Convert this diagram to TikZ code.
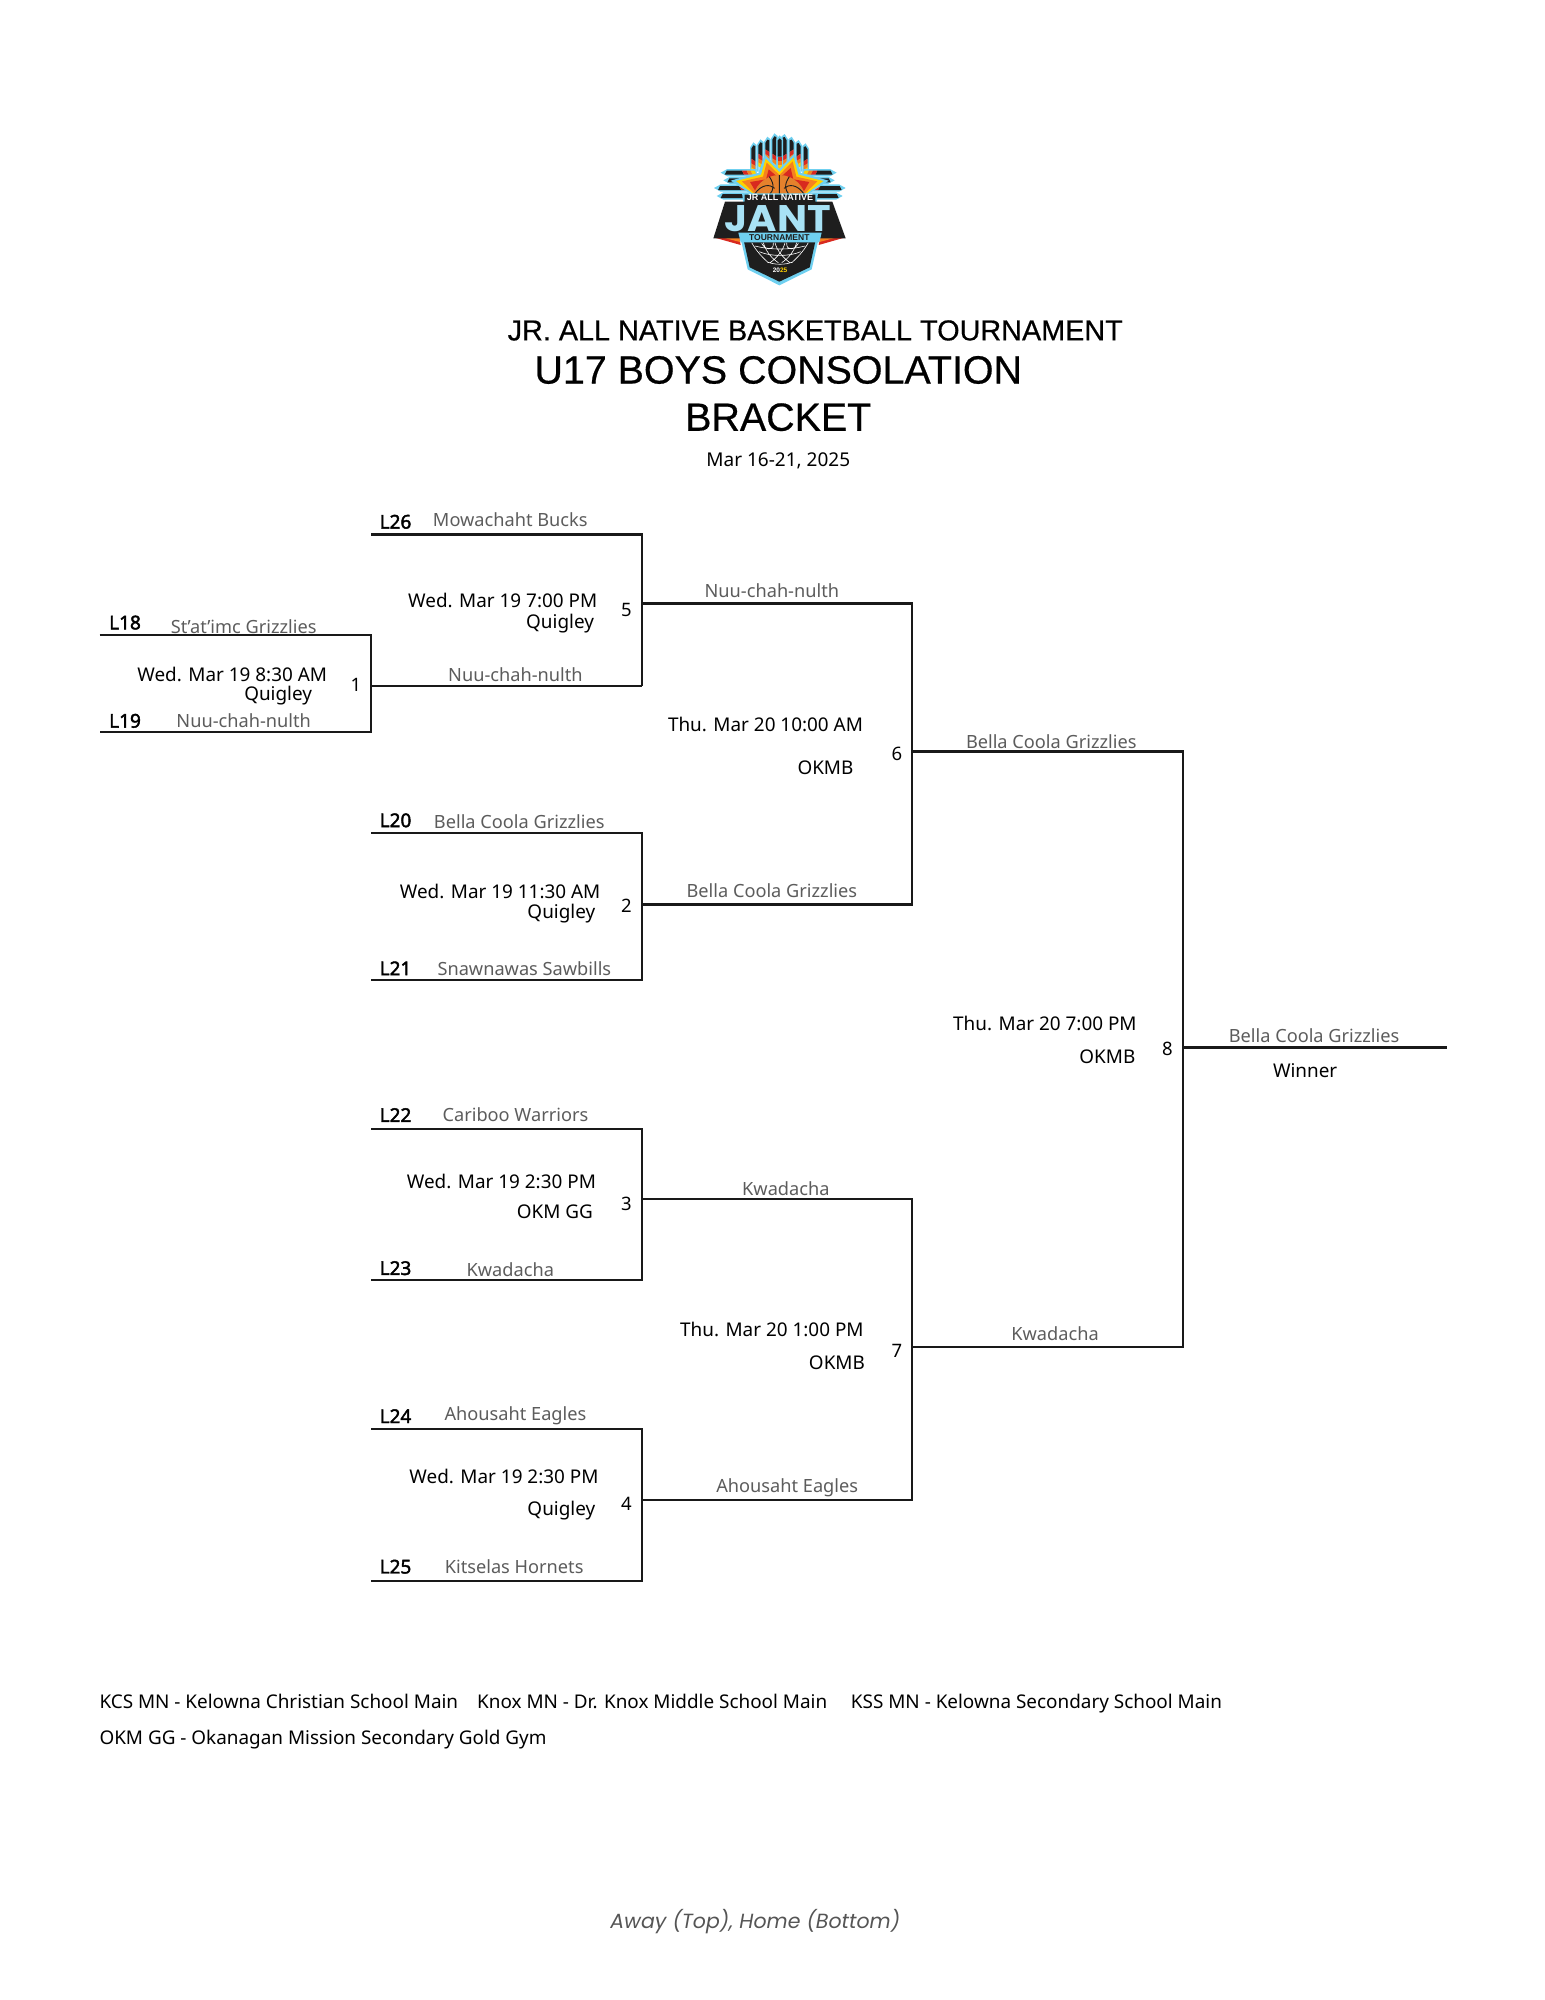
\documentclass[tikz,border=0pt]{standalone}
\usepackage{fontspec}
\usepackage{graphicx}
\setmainfont{Noto Sans}
\newfontfamily\seedfont[FakeBold=2.2]{Noto Sans}
\newfontfamily\titlefont[FakeBold=0.5]{Liberation Sans}
\newfontfamily\logofont{Liberation Sans}
\newfontfamily\awayfont{Poppins}
\definecolor{teamgray}{HTML}{5C5C5C}
\definecolor{awaygray}{HTML}{555555}
\definecolor{lcyan}{HTML}{6FD0F0}
\definecolor{lpale}{HTML}{A8E2F5}
\definecolor{lred}{HTML}{D8291F}
\definecolor{lorange}{HTML}{F58220}
\definecolor{lyellow}{HTML}{FFD200}
\definecolor{lblack}{HTML}{1E1E1E}
\definecolor{lball}{HTML}{E5812C}
% vertical feather: centre x, tip y, bottom y, slant of the stripes
\newcommand{\vfea}[4]{%
  \fill[lcyan] (#1-10,#2+12+#4) -- (#1,#2) -- (#1+10,#2+12-#4) -- (#1+10,#3) -- (#1-10,#3) -- cycle;
  \fill[lblack] (#1-6,#2+15+#4) -- (#1,#2+9) -- (#1+6,#2+15-#4) -- (#1+6,#3-50+#4) -- (#1-6,#3-50-#4) -- cycle;
  \fill[lred] (#1-6,#3-50-#4) -- (#1+6,#3-50+#4) -- (#1+6,#3-36+#4) -- (#1-6,#3-36-#4) -- cycle;
  \fill[lorange] (#1-6,#3-36-#4) -- (#1+6,#3-36+#4) -- (#1+6,#3-24+#4) -- (#1-6,#3-24-#4) -- cycle;
  \fill[lyellow] (#1-6,#3-24-#4) -- (#1+6,#3-24+#4) -- (#1+6,#3-12+#4) -- (#1-6,#3-12-#4) -- cycle;
  \fill[lpale] (#1-6,#3-12-#4) -- (#1+6,#3-12+#4) -- (#1+6,#3) -- (#1-6,#3) -- cycle;}
% horizontal feather: tip x, centre y, inner x, direction (+1 left side, -1 right side)
\newcommand{\hfea}[4]{%
  \fill[lcyan] (#1,#2) -- (#1+#4*20,#2-11) -- (#3,#2-11) -- (#3,#2+11) -- (#1+#4*20,#2+11) -- cycle;
  \fill[lblack] (#1+#4*18,#2-6) -- (#3-#4*44,#2-6) -- (#3-#4*38,#2+6) -- (#1+#4*12,#2+6) -- cycle;
  \fill[lred] (#3-#4*44,#2-6) -- (#3-#4*30,#2-6) -- (#3-#4*24,#2+6) -- (#3-#4*38,#2+6) -- cycle;
  \fill[lorange] (#3-#4*30,#2-6) -- (#3-#4*18,#2-6) -- (#3-#4*12,#2+6) -- (#3-#4*24,#2+6) -- cycle;
  \fill[lyellow] (#3-#4*18,#2-6) -- (#3-#4*6,#2-6) -- (#3,#2+6) -- (#3-#4*12,#2+6) -- cycle;}
\tikzset{
  every node/.style={inner sep=0pt,outer sep=0pt,text=black},
  bracketline/.style={line width=2.2pt,line join=miter,draw=black!90},
  seed/.style={font=\fontsize{19}{19}\selectfont\seedfont},
  team/.style={font=\fontsize{18.2}{18.2}\selectfont,text=teamgray},
  info/.style={font=\fontsize{18.9}{18.9}\selectfont},
  gamenum/.style={font=\fontsize{18.5}{18.5}\selectfont},
  legend/.style={font=\fontsize{18.9}{18.9}\selectfont,anchor=base west},
  titlea/.style={font=\fontsize{28.8}{29}\selectfont\titlefont},
  titleb/.style={font=\fontsize{39.4}{40}\selectfont\titlefont},
}
\begin{document}
\begin{tikzpicture}[x=1.2758pt,y=-1.2758pt]
\path[use as bounding box] (0,0) rectangle (1211,1567.64);
% logo
\begin{scope}[shift={(533,86.22)},x=1pt/3,y=-1pt/3]
  \foreach \c/\t/\b in {220/97/200,241/88/185,262/80/172,283/70/185}{\vfea{\c}{\t}{\b}{4}}
  \foreach \c/\t/\b in {314/72/185,335/80/172,356/90/185,377/100/200}{\vfea{\c}{\t}{\b}{-4}}
  \vfea{299}{76}{190}{0}
  \hfea{122}{188}{230}{1}\hfea{130}{211}{222}{1}\hfea{102}{234}{222}{1}\hfea{110}{258}{230}{1}
  \hfea{470}{188}{368}{-1}\hfea{464}{211}{376}{-1}\hfea{497}{234}{376}{-1}\hfea{488}{258}{368}{-1}
  \fill[lcyan] (254,134) -- (298,176) -- (344,130) -- (362,188) -- (446,212) -- (385,252) -- (213,252) -- (152,212) -- (236,188) -- cycle;
  \fill[lyellow] (257,146) -- (298,186) -- (341,142) -- (355,194) -- (430,213) -- (380,250) -- (218,250) -- (168,213) -- (243,194) -- cycle;
  \fill[lorange] (260,158) -- (298,195) -- (338,154) -- (349,200) -- (412,214) -- (375,250) -- (223,250) -- (186,214) -- (249,200) -- cycle;
  \fill[lred] (266,178) -- (298,205) -- (332,174) -- (340,208) -- (388,216) -- (368,250) -- (230,250) -- (210,216) -- (258,208) -- cycle;
  \begin{scope}
    \clip (200,190) rectangle (400,252);
    \fill[lball] (298,275) circle (80);
    \draw[lblack,line width=0.9pt] (298,195) -- (298,252) (268,200) .. controls (285,225) and (280,240) .. (270,252) (328,200) .. controls (311,225) and (316,240) .. (326,252) (224,252) .. controls (245,222) and (270,222) .. (284,235) (372,252) .. controls (351,222) and (326,222) .. (312,235);
  \end{scope}
  \fill[lcyan] (186,250) -- (414,250) -- (410,277) -- (190,277) -- cycle;
  \fill[lred] (104,383) -- (178,383) -- (182,405) -- cycle;
  \fill[lred] (493,383) -- (420,383) -- (416,405) -- cycle;
  \fill[lorange] (130,383) -- (178,383) -- (180,396) -- cycle;
  \fill[lorange] (467,383) -- (420,383) -- (418,396) -- cycle;
  \fill[lblack] (135,275) -- (194,275) -- (194,254) -- (406,254) -- (406,275) -- (457,275) -- (497,385) -- (100,385) -- cycle;
  \fill[lcyan] (183,390) -- (415,390) -- (395,478) -- (298,526) -- (203,478) -- cycle;
  \fill[lblack] (191,390) -- (407,390) -- (389,472) -- (298,515) -- (209,472) -- cycle;
  \draw[white,line width=0.6pt]
    (215,398) .. controls (230,425) and (250,445) .. (265,458)
    (250,398) .. controls (258,425) and (275,445) .. (295,458)
    (285,398) .. controls (290,420) and (310,445) .. (330,458)
    (320,398) .. controls (318,425) and (345,420) .. (355,400)
    (385,398) .. controls (370,425) and (350,445) .. (335,458)
    (350,398) .. controls (342,425) and (325,445) .. (305,458)
    (315,398) .. controls (310,420) and (290,445) .. (270,458)
    (280,398) .. controls (282,425) and (255,420) .. (245,400)
    (238,425) .. controls (270,440) and (330,440) .. (362,425)
    (225,408) .. controls (270,420) and (330,420) .. (375,408)
    (262,456) .. controls (285,465) and (315,465) .. (338,456);
  \fill[lcyan] (175,368) -- (425,368) -- (418,397) -- (182,397) -- cycle;
  \node (logojr) at (300,263) {\fontsize{9}{9}\selectfont\logofont\bfseries\textcolor{white}{JR ALL NATIVE}};
  \node (logojant) at (293,326) {\scalebox{1.08}[1.0]{\fontsize{37}{37}\selectfont\awayfont\bfseries\textcolor{lpale}{JANT}}};
  \node (logotour) at (298,382) {\fontsize{8.5}{8.5}\selectfont\logofont\bfseries\textcolor{lblack}{TOURNAMENT}};
  \node (logoyear) at (300,481) {\fontsize{6.5}{6.5}\selectfont\logofont\bfseries\textcolor{white}{20}\textcolor{lyellow}{25}};
\end{scope}
% titles
\node[titlea] (t1) at (639,259) {JR. ALL NATIVE BASKETBALL TOURNAMENT};
\node[titleb] (t2) at (610,290) {U17 BOYS CONSOLATION};
\node[titleb] (t3) at (610,327) {BRACKET};
\node[font=\fontsize{19}{19}\selectfont] (dates) at (610,361) {Mar 16-21, 2025};
% bracket anchors
\coordinate (s18) at (78,498);
\coordinate (s19) at (78,574);
\coordinate (g1t) at (291,498);
\coordinate (g1b) at (291,574);
\coordinate (g1m) at (291,538);
\coordinate (s26) at (291,419);
\coordinate (g5t) at (503,419);
\coordinate (g5b) at (503,538);
\coordinate (g5m) at (503,473);
\coordinate (s20) at (291,653);
\coordinate (s21) at (291,768);
\coordinate (g2t) at (503,653);
\coordinate (g2b) at (503,768);
\coordinate (g2m) at (503,709);
\coordinate (g6t) at (715,473);
\coordinate (g6b) at (715,709);
\coordinate (g6m) at (715,589);
\coordinate (s22) at (291,885);
\coordinate (s23) at (291,1003);
\coordinate (g3t) at (503,885);
\coordinate (g3b) at (503,1003);
\coordinate (g3m) at (503,940);
\coordinate (s24) at (291,1120);
\coordinate (s25) at (291,1239);
\coordinate (g4t) at (503,1120);
\coordinate (g4b) at (503,1239);
\coordinate (g4m) at (503,1176);
\coordinate (g7t) at (715,940);
\coordinate (g7b) at (715,1176);
\coordinate (g7m) at (715,1056);
\coordinate (g8t) at (927,589);
\coordinate (g8b) at (927,1056);
\coordinate (g8m) at (927,821);
\coordinate (win) at (1134,821);
\draw[bracketline] (s18) -- (g1t) -- (g1b) -- (s19);
\draw[bracketline] (g1m) -- (g5b);
\draw[bracketline] (s26) -- (g5t) -- (g5b);
\draw[bracketline] (g5m) -- (g6t) -- (g6b) -- (g2m);
\draw[bracketline] (s20) -- (g2t) -- (g2b) -- (s21);
\draw[bracketline] (g6m) -- (g8t) -- (g8b) -- (g7m);
\draw[bracketline] (s22) -- (g3t) -- (g3b) -- (s23);
\draw[bracketline] (s24) -- (g4t) -- (g4b) -- (s25);
\draw[bracketline] (g3m) -- (g7t) -- (g7b) -- (g4m);
\draw[bracketline] (g8m) -- (win);
% game 1
\node[seed] (l18) at (98,488) {L18};
\node[team] (n18) at (191,491) {St’at’imc Grizzlies};
\node[info] (d1) at (182,529) {Wed. Mar 19 8:30 AM};
\node[info] (v1) at (218,545) {Quigley};
\node[gamenum] (m1) at (279,537) {1};
\node[seed] (l19) at (98,565) {L19};
\node[team] (n19) at (191,565) {Nuu-chah-nulth};
\node[team] (r1) at (404,529) {Nuu-chah-nulth};
% game 5
\node[seed] (l26) at (310,409) {L26};
\node[team] (n26) at (400,407) {Mowachaht Bucks};
\node[info] (d5) at (394,471) {Wed. Mar 19 7:00 PM};
\node[info] (v5) at (439,489) {Quigley};
\node[gamenum] (m5) at (491,478) {5};
\node[team] (r5) at (605,463) {Nuu-chah-nulth};
% game 6
\node[info] (d6) at (600,568) {Thu. Mar 20 10:00 AM};
\node[info] (v6) at (647,602) {OKMB};
\node[gamenum] (m6) at (703,591) {6};
\node[team] (r6) at (824,581) {Bella Coola Grizzlies};
% game 2
\node[seed] (l20) at (310,643) {L20};
\node[team] (n20) at (407,644) {Bella Coola Grizzlies};
\node[info] (d2) at (392,699) {Wed. Mar 19 11:30 AM};
\node[info] (v2) at (440,716) {Quigley};
\node[gamenum] (m2) at (491,710) {2};
\node[seed] (l21) at (310,759) {L21};
\node[team] (n21) at (411,759) {Snawnawas Sawbills};
\node[team] (r2) at (605,698) {Bella Coola Grizzlies};
% game 8
\node[info] (d8) at (819,802) {Thu. Mar 20 7:00 PM};
\node[info] (v8) at (868,828) {OKMB};
\node[gamenum] (m8) at (915,822) {8};
\node[team] (r8) at (1030,812) {Bella Coola Grizzlies};
\node[info] (winner) at (1023,839) {Winner};
% game 3
\node[seed] (l22) at (310,874) {L22};
\node[team] (n22) at (404,874) {Cariboo Warriors};
\node[info] (d3) at (393,926) {Wed. Mar 19 2:30 PM};
\node[info] (v3) at (435,950) {OKM GG};
\node[gamenum] (m3) at (491,944) {3};
\node[seed] (l23) at (310,994) {L23};
\node[team] (n23) at (400,995) {Kwadacha};
\node[team] (r3) at (616,932) {Kwadacha};
% game 7
\node[info] (d7) at (605,1042) {Thu. Mar 20 1:00 PM};
\node[info] (v7) at (656,1068) {OKMB};
\node[gamenum] (m7) at (703,1059) {7};
\node[team] (r7) at (827,1045) {Kwadacha};
% game 4
\node[seed] (l24) at (310,1110) {L24};
\node[team] (n24) at (404,1110) {Ahousaht Eagles};
\node[info] (d4) at (395,1157) {Wed. Mar 19 2:30 PM};
\node[info] (v4) at (440,1184) {Quigley};
\node[gamenum] (m4) at (491,1179) {4};
\node[seed] (l25) at (310,1228) {L25};
\node[team] (n25) at (403,1228) {Kitselas Hornets};
\node[team] (r4) at (617,1166) {Ahousaht Eagles};
% legend
\node[legend] (k1) at (78,1339) {KCS MN - Kelowna Christian School Main};
\node[legend] (k2) at (374,1339) {Knox MN - Dr. Knox Middle School Main};
\node[legend] (k3) at (667,1339) {KSS MN - Kelowna Secondary School Main};
\node[legend] (k4) at (78,1367) {OKM GG - Okanagan Mission Secondary Gold Gym};
\node[font=\fontsize{20.5}{20.5}\selectfont\awayfont\itshape,text=awaygray] (away) at (592,1506) {Away (Top), Home (Bottom)};
\end{tikzpicture}
\end{document}
